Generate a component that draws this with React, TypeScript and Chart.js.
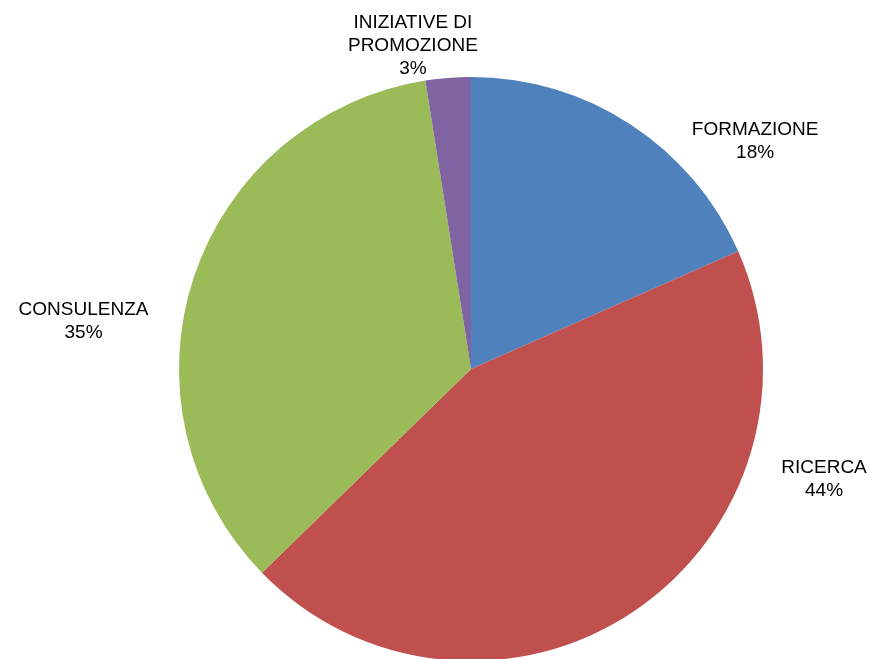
import React, { useEffect, useRef } from "react";
import { Chart, registerables } from "chart.js";

Chart.register(...registerables);

const categories = ["FORMAZIONE", "RICERCA", "CONSULENZA", "INIZIATIVE DI PROMOZIONE"];
const categoryLines = [["FORMAZIONE"], ["RICERCA"], ["CONSULENZA"], ["INIZIATIVE DI", "PROMOZIONE"]];
const values = [18.4, 44.3, 34.8, 2.5];
const percentLabels = ["18%", "44%", "35%", "3%"];

const colors = ["#4F81BD", "#C0504D", "#9BBB59", "#8064A2"];
// label anchor (centre x, first baseline y) relative to pie centre, in radius units
const labelOffsets = [
  [0.973, -0.801],
  [1.209, 0.356],
  [-1.327, -0.185],
  [-0.199, -1.168],
];

const labelPlugin = {
  id: "outerLabels",
  afterDatasetsDraw(chart: any) {
    const meta = chart.getDatasetMeta(0);
    const ctx = chart.ctx;
    ctx.save();
    ctx.font = '19px "Liberation Sans", Arial, sans-serif';
    ctx.fillStyle = "#000";
    ctx.textAlign = "center";
    ctx.textBaseline = "alphabetic";
    meta.data.forEach((arc: any, i: number) => {
      const r = arc.outerRadius;
      const x = arc.x + labelOffsets[i][0] * r;
      let y = arc.y + labelOffsets[i][1] * r;
      const lines = [...categoryLines[i], percentLabels[i]];
      lines.forEach((t) => {
        ctx.fillText(t, x, y);
        y += 23;
      });
    });
    ctx.restore();
  },
};

export default function App() {
  const ref = useRef<HTMLCanvasElement>(null);
  useEffect(() => {
    if (!ref.current) return;
    const chart = new Chart(ref.current, {
      type: "pie",
      data: {
        labels: categories,
        datasets: [
          {
            data: values,
            backgroundColor: colors,
            borderWidth: 0,
          },
        ],
      },
      options: {
        responsive: false,
        animation: false,
        layout: { padding: { left: 179, right: 111, top: 77, bottom: 39 } },
        plugins: {
          legend: { display: false },
          tooltip: { enabled: false },
        },
      },
      plugins: [labelPlugin],
    });
    return () => chart.destroy();
  }, []);
  return (
    <div
      style={{
        position: "fixed",
        left: 0,
        top: 0,
        width: 874,
        height: 659,
        overflow: "hidden",
        background: "#fff",
      }}
    >
      <canvas ref={ref} width={874} height={700} style={{ display: "block" }} />
    </div>
  );
}
